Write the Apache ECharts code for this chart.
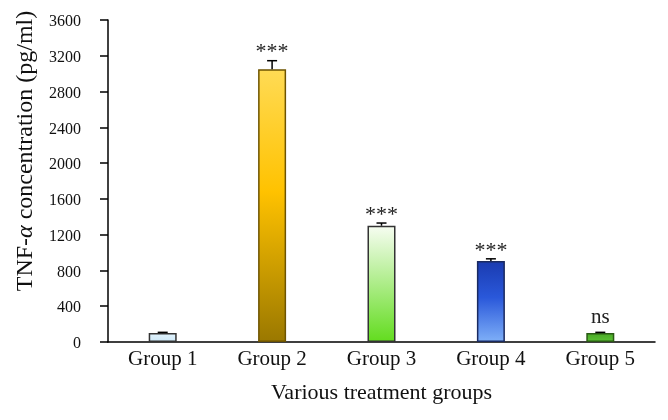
<!DOCTYPE html>
<html><head><meta charset="utf-8">
<script src="https://cdn.jsdelivr.net/npm/echarts@6/dist/echarts.min.js"></script>
<style>html,body{margin:0;padding:0;background:#fff}#c{width:668px;height:420px}</style>
</head><body><div id="c"></div>
<script>
const categories = ["Group 1", "Group 2", "Group 3", "Group 4", "Group 5"];
const values = [100, 3050, 1300, 905, 100];
const errors = [8, 95, 30, 25, 8];
const marks = ["", "***", "***", "***", "ns"];
const yTicks = [0, 400, 800, 1200, 1600, 2000, 2400, 2800, 3200, 3600];

const G = echarts.graphic.LinearGradient;
const fills = [
  new G(0,0,0,1,[{offset:0,color:'#e2f3fc'},{offset:1,color:'#cde8f8'}]),
  new G(0,0,0,1,[{offset:0,color:'#ffdb55'},{offset:0.45,color:'#ffc200'},{offset:1,color:'#9a7800'}]),
  new G(0,0,0,1,[{offset:0,color:'#f7fdf2'},{offset:1,color:'#62dc1e'}]),
  new G(0,0,0,1,[{offset:0,color:'#1a3bb0'},{offset:0.45,color:'#2a58da'},{offset:1,color:'#7fb0f8'}]),
  new G(0,0,0,1,[{offset:0,color:'#4aa828'},{offset:1,color:'#5cc434'}])
];
const borders = ['#333', '#6e5400', '#333', '#1a2a60', '#2a5a14'];

const font = '"Liberation Serif","DejaVu Serif",serif';
const chart = echarts.init(document.getElementById('c'), null, {renderer:'canvas'});
chart.setOption({
  animation: false,
  grid: {left: 108, right: 13, top: 20, bottom: 78},
  xAxis: {
    type: 'category', data: categories,
    axisLine: {lineStyle: {color: '#000', width: 1.5}},
    axisTick: {show: false},
    axisLabel: {fontFamily: font, fontSize: 21, color: '#111', margin: 7},
    name: 'Various treatment groups', nameLocation: 'middle', nameGap: 40,
    nameTextStyle: {fontFamily: font, fontSize: 22, color: '#111', verticalAlign: 'top'}
  },
  yAxis: {
    type: 'value', min: 0, max: 3600, interval: 400,
    axisLine: {show: true, lineStyle: {color: '#000', width: 1.5}},
    axisTick: {show: true, length: 8, lineStyle: {color: '#000', width: 1.5}},
    splitLine: {show: false},
    axisLabel: {fontFamily: font, fontSize: 16, color: '#111', margin: 27, verticalAlign: 'top', padding: [-6, 0, 0, 0],
      formatter: v => yTicks.includes(v) ? String(v) : ''}
  },
  graphic: [{
    type: 'text', x: 26, y: 151, rotation: Math.PI / 2,
    style: {
      text: '{n|TNF-}{a|α}{n| concentration (pg/ml)}',
      align: 'center', verticalAlign: 'middle',
      rich: {
        n: {fontFamily: font, fontSize: 24, fill: '#111'},
        a: {fontFamily: font, fontSize: 24, fill: '#111', fontStyle: 'italic'}
      }
    }
  }],
  series: [
    {
      type: 'bar', barWidth: 28,
      data: values.map((v, i) => ({value: v, itemStyle: {color: fills[i], borderColor: borders[i], borderWidth: 1.5}}))
    },
    {
      type: 'custom',
      data: values.map((v, i) => [i, v, errors[i]]),
      renderItem: (params, api) => {
        const x = api.coord([api.value(0), 0])[0];
        const yb = api.coord([0, api.value(1)])[1];
        const yt = api.coord([0, api.value(1) + api.value(2)])[1];
        const m = marks[params.dataIndex];
        const children = [
          {type: 'line', shape: {x1: x, y1: yb, x2: x, y2: yt}, style: {stroke: '#000', lineWidth: 1.5}},
          {type: 'line', shape: {x1: x - 5, y1: yt, x2: x + 5, y2: yt}, style: {stroke: '#000', lineWidth: 1.5}}
        ];
        if (m) {
          children.push({type: 'text', style: {
            text: m, x: x, y: yt - (m === 'ns' ? 15 : 8), align: 'center', verticalAlign: 'middle',
            fontFamily: font, fontSize: m === 'ns' ? 21 : 22, fill: '#222'
          }});
        }
        return {type: 'group', children};
      },
      z: 5
    }
  ]
});
</script></body></html>
